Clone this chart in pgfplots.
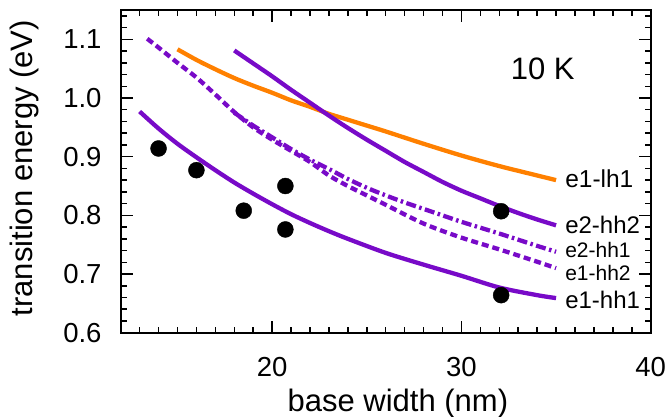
\documentclass[border=0pt]{standalone}
\usepackage{fontspec}
\setmainfont{Liberation Sans}
\usepackage{pgfplots}
\pgfplotsset{compat=1.18}
\definecolor{myp}{RGB}{120,10,200}
\definecolor{myo}{RGB}{255,128,0}
\begin{document}
\begin{tikzpicture}
\begin{axis}[
 at={(120.7pt,84.3pt)}, anchor=south west,
 scale only axis, width=530pt, height=322.7pt,
 xmin=12, xmax=40, ymin=0.6, ymax=1.15,
 xtick={20,30,40}, xticklabels={20,30,40},
 minor xtick={13,14,15,16,17,18,19,21,22,23,24,25,26,27,28,29,31,32,33,34,35,36,37,38,39},
 ytick={0.6,0.7,0.8,0.9,1.0,1.1}, yticklabels={0.6,0.7,0.8,0.9,1.0,1.1},
 minor ytick={0.62,0.64,0.66,0.68,0.72,0.74,0.76,0.78,0.82,0.84,0.86,0.88,0.92,0.94,0.96,0.98,1.02,1.04,1.06,1.08,1.12,1.14},
 tick align=inside, major tick length=12pt, minor tick length=6pt,
 every tick/.style={black, line width=1.5pt},
 axis line style={line width=2pt},
 ticklabel style={font=\fontsize{27.5}{30}\selectfont, inner sep=0pt},
 yticklabel style={anchor=east, xshift=-19pt},
 xticklabel style={anchor=north, yshift=-24pt},
 xlabel={base width (nm)},
 ylabel={transition energy (eV)},
 label style={font=\fontsize{31}{34}\selectfont, inner sep=0pt},
 xlabel style={at={(axis description cs:0.523,0)}, anchor=base, yshift=-79pt},
 ylabel style={at={(axis description cs:-0.1655,0.51)}, rotate=0, anchor=base},
 clip=false,
]
% e1-lh1 (orange)
\addplot[myo, line width=4.3pt, smooth] coordinates {
 (15,1.083) (16,1.065) (17,1.049) (18,1.034) (19,1.021) (20,1.009) (21,0.996) (22,0.985)
 (23,0.973) (24,0.963) (25,0.953) (26,0.943) (28,0.922) (30,0.902) (32,0.884) (34,0.868) (35,0.860)};
% e2-hh2
\addplot[myp, line width=4.3pt, smooth] coordinates {
 (18,1.081) (19,1.059) (20,1.037) (21,1.014) (22,0.992) (23,0.970) (24,0.949) (25,0.929)
 (26,0.910) (27,0.891) (28,0.874) (29,0.857) (30,0.842) (31,0.829) (32,0.816) (33,0.804) (34,0.793) (35,0.783)};
% e2-hh1 (dash-dot)
\addplot[myp, line width=4.3pt, smooth, dash pattern=on 10pt off 3.5pt on 2.5pt off 3.5pt] coordinates {
 (18,0.975) (19,0.953) (20,0.933) (21,0.913) (22,0.895) (23,0.879) (24,0.862) (25,0.847)
 (26,0.834) (27,0.822) (28,0.811) (30,0.789) (32,0.769) (34,0.748) (35,0.738)};
% e1-hh2 (dashed)
\addplot[myp, line width=4.3pt, smooth, dash pattern=on 7pt off 4pt] coordinates {
 (13.4,1.101) (14,1.086) (15,1.060) (16,1.035) (17,1.006) (18,0.976) (19,0.950) (20,0.929)
 (21,0.910) (22,0.891) (23,0.868) (24,0.850) (25,0.834) (26,0.818) (28,0.786) (30,0.762)
 (32,0.742) (34,0.721) (35,0.710)};
% e1-hh1
\addplot[myp, line width=4.3pt, smooth] coordinates {
 (13,0.977) (14,0.948) (15,0.922) (16,0.899) (17,0.877) (18,0.856) (19,0.837) (20,0.819)
 (21,0.802) (22,0.787) (23,0.773) (24,0.760) (26,0.736) (28,0.716) (30,0.697) (32,0.677)
 (34,0.664) (35,0.659)};
% data
\addplot[only marks, mark=*, mark size=8pt, black] coordinates {
 (14.0,0.914) (16.0,0.877) (18.5,0.808) (20.7,0.850) (20.7,0.776) (32.1,0.807) (32.1,0.664)};
\node[font=\fontsize{31}{33}\selectfont] at (axis cs:34.3,1.050) {10 K};
\node[anchor=west, inner sep=0pt, xshift=9pt, font=\fontsize{24.5}{26}\selectfont] at (axis cs:35,0.862) {e1-lh1};
\node[anchor=west, inner sep=0pt, xshift=9pt, font=\fontsize{24}{26}\selectfont] at (axis cs:35,0.783) {e2-hh2};
\node[anchor=west, inner sep=0pt, xshift=9pt, font=\fontsize{21}{23}\selectfont] at (axis cs:35,0.741) {e2-hh1};
\node[anchor=west, inner sep=0pt, xshift=9pt, font=\fontsize{21}{23}\selectfont] at (axis cs:35,0.701) {e1-hh2};
\node[anchor=west, inner sep=0pt, xshift=9pt, font=\fontsize{24}{26}\selectfont] at (axis cs:35,0.656) {e1-hh1};
\end{axis}
\pgfresetboundingbox
\path[use as bounding box] (0,0) rectangle (667pt,417pt);
\end{tikzpicture}
\end{document}
